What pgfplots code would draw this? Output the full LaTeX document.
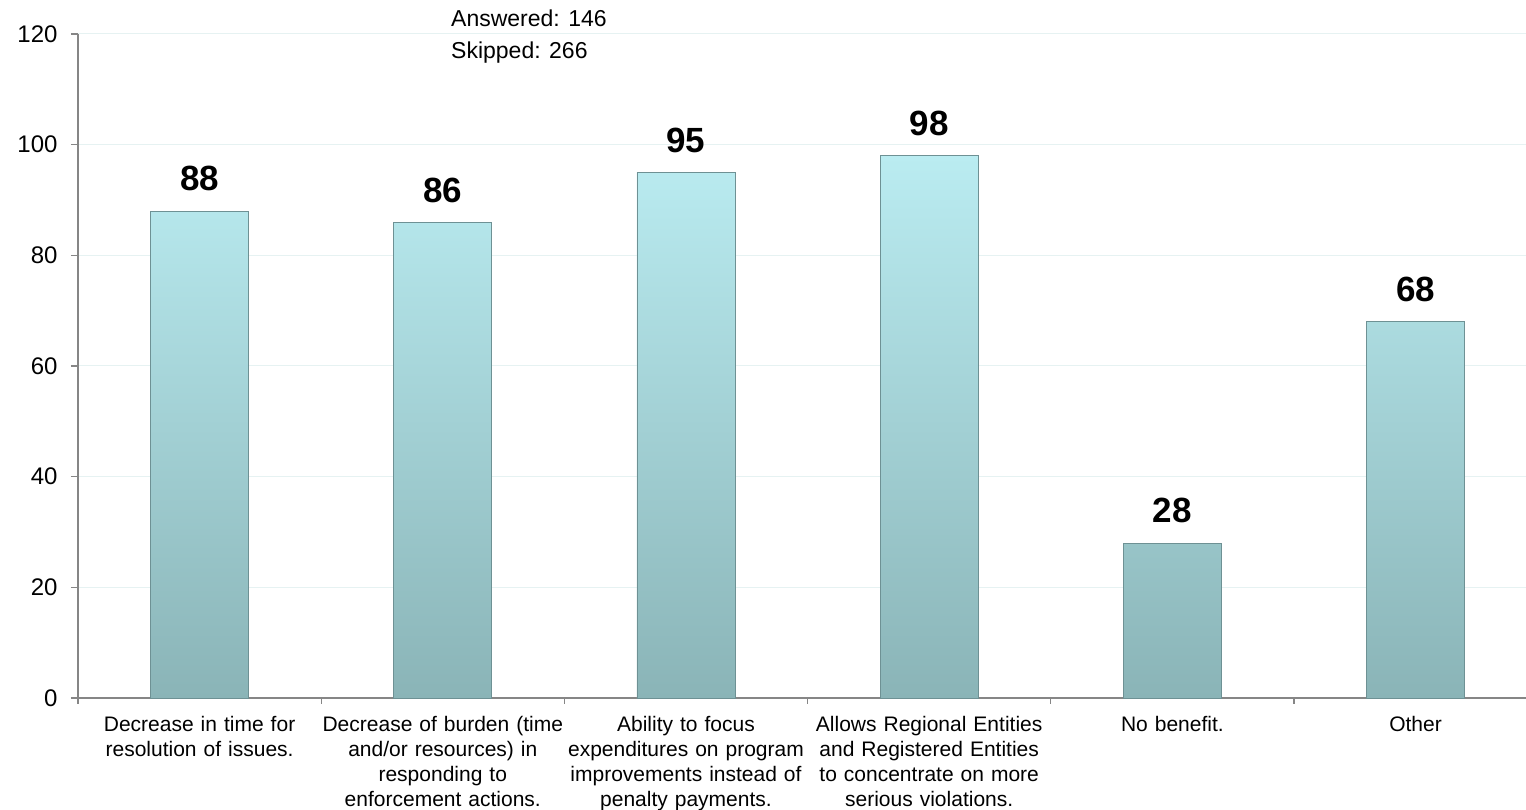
\documentclass[border=0pt]{standalone}
\usepackage{fontspec}
\setmainfont{Liberation Sans}
\usepackage{pgfplots}
\pgfplotsset{compat=1.18}
\definecolor{bartop}{RGB}{186,236,241}
\definecolor{barbot}{RGB}{138,180,183}
\definecolor{baredge}{RGB}{110,145,148}
\definecolor{axgray}{RGB}{134,134,134}
\definecolor{gridc}{RGB}{230,242,242}
\begin{document}
\begin{tikzpicture}[x=1pt,y=1pt]
\begin{axis}[
  scale only axis, width=1448pt, height=664pt,
  xmin=-0.5, xmax=5.454, ymin=0, ymax=120,
  axis x line*=bottom, axis y line*=left,
  x axis line style={draw=axgray, line width=2pt},
  y axis line style={draw=axgray, line width=1.5pt},
  clip=false,
  ybar, bar width=98pt,
  ytick={0,20,...,120},
  ymajorgrids, major grid style={draw=gridc, line width=1pt},
  major y tick style={draw=axgray, line width=1.2pt},
  major tick length=7pt, tick align=outside,
  yticklabel style={font=\fontsize{24}{28}\selectfont, xshift=-10pt},
  /pgf/number format/assume math mode=true,
  xtick={0,...,5},
  major x tick style={draw=none},
  minor xtick={-0.5,0.5,1.5,2.5,3.5,4.5},
  minor x tick style={draw=axgray, line width=1.2pt},
  minor tick length=6pt,
  xticklabels={
    {Decrease in time for\\resolution of issues.},
    {Decrease of burden (time\\and/or resources) in\\responding to\\enforcement actions.},
    {Ability to focus\\expenditures on program\\improvements instead of\\penalty payments.},
    {Allows Regional Entities\\and Registered Entities\\to concentrate on more\\serious violations.},
    {No benefit.},
    {Other}},
  xticklabel style={text width=250pt, align=center, font=\fontsize{21}{25}\selectfont, yshift=-8pt},
  nodes near coords,
  every node near coord/.append style={font=\fontsize{35}{40}\selectfont\bfseries, text=black, yshift=16pt},
]
\addplot[ybar, draw=baredge, line width=0.8pt, top color=bartop, bottom color=barbot]
  coordinates {(0,88) (1,86) (2,95) (3,98) (4,28) (5,68)};
\node[anchor=west, align=left, font=\fontsize{23}{32}\selectfont, inner sep=0pt, yshift=-3pt]
  at (rel axis cs:0.2576,1) {Answered: 146\\Skipped: 266};
\end{axis}
\pgfresetboundingbox
\path[use as bounding box] (-78,-112) rectangle (1448,698);
\end{tikzpicture}
\end{document}
